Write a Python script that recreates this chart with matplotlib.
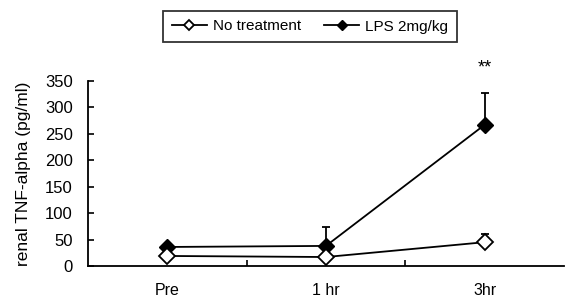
import matplotlib
matplotlib.use("Agg")
import matplotlib.pyplot as plt
from matplotlib.ticker import FixedLocator
from matplotlib.lines import Line2D

categories = ["Pre", "1 hr", "3hr"]
no_treat = [19, 17, 45]
no_treat_err = [0, 0, 15]
lps = [36, 38, 267]
lps_err = [0, 35, 60]
yticks = [0, 50, 100, 150, 200, 250, 300, 350]

plt.rcParams['font.family'] = ['Liberation Sans', 'DejaVu Sans']
fig = plt.figure(figsize=(5.65, 3.0), dpi=100)
ax = fig.add_axes([88/565, 34/300, 1 - 88/565 - 0.002, (266-81)/300])

x = list(range(len(categories)))
ax.errorbar(x, lps, yerr=[[0]*3, lps_err], color='black', lw=1.3, marker='D',
            ms=8, mfc='black', mec='black', capsize=3, capthick=1.3, elinewidth=1.3,
            zorder=3)
ax.errorbar(x, no_treat, yerr=[[0]*3, no_treat_err], color='black', lw=1.3, marker='D',
            ms=8, mfc='white', mec='black', mew=1.3, capsize=3, capthick=1.3, elinewidth=1.3,
            zorder=4)

ax.text(2, 374, "**", ha='center', va='center', fontsize=13, clip_on=False)

ax.set_xlim(-0.5, 2.5)
ax.set_ylim(0, 350)
ax.set_yticks(yticks)
ax.set_xticks(x)
ax.set_xticklabels(categories, fontsize=11.5)
ax.xaxis.set_minor_locator(FixedLocator([0.5, 1.5]))
ax.tick_params(axis='x', which='major', length=0, pad=12)
ax.tick_params(axis='x', which='minor', direction='in', length=4, width=1.2)
ax.tick_params(axis='y', direction='in', length=4, width=1.2, labelsize=12, pad=11)
for s in ['top', 'right']:
    ax.spines[s].set_visible(False)
ax.spines['left'].set_linewidth(1.3)
ax.spines['bottom'].set_linewidth(1.3)
ax.set_ylabel("renal TNF-alpha (pg/ml)", fontsize=12.5, labelpad=10)

h1 = Line2D([], [], color='black', lw=1.3, marker='D', ms=5, mfc='white', mec='black', mew=1.3)
h2 = Line2D([], [], color='black', lw=1.3, marker='D', ms=5, mfc='black', mec='black')
leg = fig.legend([h1, h2], ["No treatment", "LPS 2mg/kg"], loc='center',
                 bbox_to_anchor=(310/565, 1 - 26.5/300),
                 ncol=2, frameon=True, fancybox=False, edgecolor='black', fontsize=11,
                 handlelength=2.3, columnspacing=1.5, borderpad=0.55, handletextpad=0.4,
                 borderaxespad=0)
leg.get_frame().set_linewidth(1.3)

fig.savefig("out.png", dpi=100)
